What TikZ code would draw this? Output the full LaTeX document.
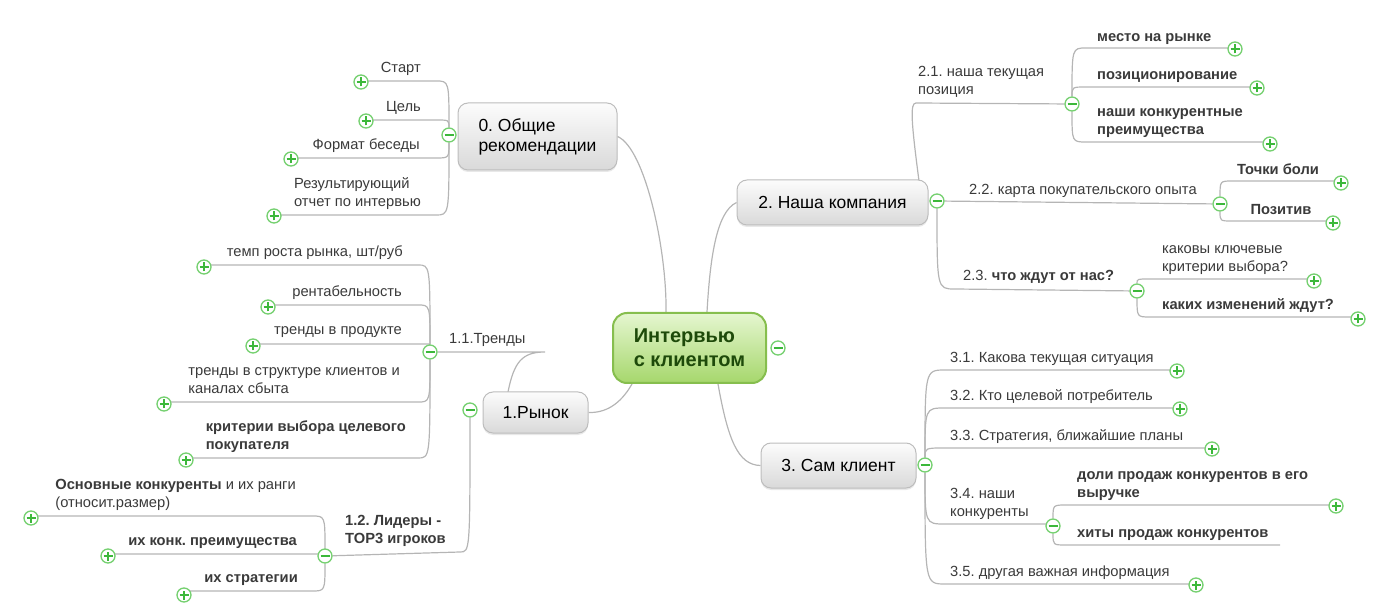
\documentclass[tikz,border=0pt]{standalone}
\usepackage{fontspec}
\setmainfont{Liberation Sans}
\usepackage{tikz}
\usetikzlibrary{backgrounds,calc,positioning,shadows}
\frenchspacing

\definecolor{linegray}{HTML}{B5B5B5}
\definecolor{textgray}{HTML}{3A3A3A}
\definecolor{btnring}{HTML}{74D06F}
\definecolor{btnmark}{HTML}{3CB83A}
\definecolor{topicline}{HTML}{BDBDBD}
\definecolor{topictop}{HTML}{FCFCFC}
\definecolor{topicbottom}{HTML}{D9D9D9}
\definecolor{rootline}{HTML}{86BE4E}
\definecolor{roottop}{HTML}{E5F6D0}
\definecolor{rootbottom}{HTML}{A6D76C}
\definecolor{roottext}{HTML}{1E4A0A}

\tikzset{
  branch/.style={draw=linegray,line width=1.2pt},
  topic/.style={rounded corners=10pt,draw=topicline,line width=1pt,top color=topictop,bottom color=topicbottom,
    drop shadow={opacity=0.18,shadow xshift=0pt,shadow yshift=-2pt},
    font=\fontsize{17.5}{20}\selectfont,text=black,align=left,inner sep=0pt},
  root/.style={rounded corners=14pt,draw=rootline,line width=2pt,top color=roottop,bottom color=rootbottom,
    font=\fontsize{20}{24}\selectfont\bfseries,text=roottext,align=left,inner sep=0pt},
  item/.style={inner sep=0pt,font=\fontsize{14.7}{17.5}\selectfont,text=textgray,align=left,execute at end node=\strut},
  bolditem/.style={item,font=\fontsize{14.7}{17.5}\selectfont\bfseries},
  foldbtn/.style={circle,draw=btnring,line width=1.3pt,fill=white,minimum size=14pt,inner sep=0pt},
  expandbtn/.style={foldbtn,path picture={
    \draw[btnmark,line width=2.2pt] ($(path picture bounding box.center)+(-4.5pt,0pt)$) -- ($(path picture bounding box.center)+(4.5pt,0pt)$);
    \draw[btnmark,line width=2.2pt] ($(path picture bounding box.center)+(0pt,-4.5pt)$) -- ($(path picture bounding box.center)+(0pt,4.5pt)$);}},
  collapsebtn/.style={foldbtn,path picture={
    \draw[btnmark,line width=2.2pt] ($(path picture bounding box.center)+(-4.5pt,0pt)$) -- ($(path picture bounding box.center)+(4.5pt,0pt)$);}},
}

\begin{document}
\begin{tikzpicture}[x=1pt,y=-1pt]
\useasboundingbox (0,0) rectangle (1385,612);

% main topics
\node[root,minimum width=153pt,minimum height=70pt] (root) at (689.5,348) {Интервью\\с клиентом};
\node[collapsebtn] (mroot) at (778,348) {};
\node[topic,minimum width=159pt,minimum height=67pt] (t0) at (537.5,136.5) {0. Общие\\рекомендации};
\node[collapsebtn] (m0) at (449,135) {};
\node[topic,minimum width=105pt,minimum height=41pt] (t1) at (535.5,412.5) {1.Рынок};
\node[collapsebtn] (m1) at (470,410) {};
\node[topic,minimum width=191pt,minimum height=45pt] (t2) at (832.5,202.5) {2. Наша компания};
\node[collapsebtn] (m2) at (937,201) {};
\node[topic,minimum width=155pt,minimum height=45pt] (t3) at (838.5,465.5) {3. Сам клиент};
\node[collapsebtn] (m3) at (925,465) {};

% 0
\node[item,anchor=south east] (s0a) at (421,77.5) {Старт};
\node[item,anchor=south east] (s0b) at (421,116.5) {Цель};
\node[item,anchor=south east] (s0c) at (420,154.5) {Формат беседы};
\node[item,anchor=south east] (s0d) at (421,211.5) {Результирующий\\отчет по интервью};
\coordinate (c0a) at (436,81);
\coordinate (c0b) at (436,120);
\coordinate (c0c) at (436,158);
\coordinate (c0d) at (436,215);
\node[expandbtn] (p0a) at (361,82) {};
\node[expandbtn] (p0b) at (366,121) {};
\node[expandbtn] (p0c) at (291,159) {};
\node[expandbtn] (p0d) at (274,216) {};

% 1
\node[item,anchor=south west] (s11) at (449,348.5) {1.1.Тренды};
\node[collapsebtn] (m11) at (430,352) {};
\coordinate (c11) at (545,352);
\coordinate (r11) at (508,392);
\node[bolditem,anchor=south west] (s12) at (345,548.5) {1.2. Лидеры -\\TOP3 игроков};
\node[collapsebtn] (m12) at (325,556) {};
\coordinate (c12) at (460,552);

\node[item,anchor=south east] (s11a) at (403,261.5) {темп роста рынка, шт/руб};
\node[item,anchor=south east] (s11b) at (402,301.5) {рентабельность};
\node[item,anchor=south east] (s11c) at (402,339.5) {тренды в продукте};
\node[item,anchor=south east] (s11d) at (400,398.5) {тренды в структуре клиентов и\\каналах сбыта};
\node[bolditem,anchor=south east] (s11e) at (406,454.5) {критерии выбора целевого\\покупателя};
\coordinate (c11a) at (418,265);
\coordinate (c11b) at (418,305);
\coordinate (c11c) at (418,344);
\coordinate (c11d) at (418,402);
\coordinate (c11e) at (418,458);
\node[expandbtn] (p11a) at (204,267) {};
\node[expandbtn] (p11b) at (268,307) {};
\node[expandbtn] (p11c) at (253,346) {};
\node[expandbtn] (p11d) at (164,404) {};
\node[expandbtn] (p11e) at (186,460) {};

\node[item,anchor=south east] (s12a) at (296,512.5) {\textbf{Основные конкуренты} и их ранги\\(относит.размер)};
\node[bolditem,anchor=south east] (s12b) at (297,550.5) {их конк. преимущества};
\node[bolditem,anchor=south east] (s12c) at (298,587.5) {их стратегии};
\coordinate (c12a) at (312,516);
\coordinate (c12b) at (312,554);
\coordinate (c12c) at (312,591);
\node[expandbtn] (p12a) at (31,518) {};
\node[expandbtn] (p12b) at (108,556) {};
\node[expandbtn] (p12c) at (184,595) {};

% 2
\node[item,anchor=south west] (s21) at (918,99.5) {2.1. наша текущая\\позиция};
\node[collapsebtn] (m21) at (1072,104) {};
\coordinate (c21) at (916,103);
\coordinate (r21) at (919,181);
\node[item,anchor=south west] (s22) at (969,199.5) {2.2. карта покупательского опыта};
\node[collapsebtn] (m22) at (1220,204) {};
\node[item,anchor=south west] (s23) at (963,285.5) {2.3. \textbf{что ждут от нас?}};
\node[collapsebtn] (m23) at (1137,291) {};
\coordinate (c23) at (955,289);

\node[bolditem,anchor=south west] (s21a) at (1097,46.5) {место на рынке};
\node[bolditem,anchor=south west] (s21b) at (1097,84.5) {позиционирование};
\node[bolditem,anchor=south west] (s21c) at (1097,139.5) {наши конкурентные\\преимущества};
\coordinate (c21a) at (1086,48);
\coordinate (c21b) at (1086,87);
\coordinate (c21c) at (1086,142);
\node[expandbtn] (p21a) at (1235,49) {};
\node[expandbtn] (p21b) at (1257,88) {};
\node[expandbtn] (p21c) at (1270,144) {};

\node[bolditem,anchor=south] (s22a) at (1278,179.5) {Точки боли};
\node[bolditem,anchor=south] (s22b) at (1281,219.5) {Позитив};
\coordinate (c22a) at (1232,181);
\coordinate (c22b) at (1232,221);
\node[expandbtn] (p22a) at (1341,183) {};
\node[expandbtn] (p22b) at (1333,223) {};

\node[item,anchor=south west] (s23a) at (1162,276.5) {каковы ключевые\\критерии выбора?};
\node[bolditem,anchor=south west] (s23b) at (1162,314.5) {каких изменений ждут?};
\coordinate (c23a) at (1150,279);
\coordinate (c23b) at (1150,317);
\node[expandbtn] (p23a) at (1314,281) {};
\node[expandbtn] (p23b) at (1358,319) {};

% 3
\node[item,anchor=south west] (s31) at (950,367.5) {3.1. Какова текущая ситуация};
\node[item,anchor=south west] (s32) at (950,405.5) {3.2. Кто целевой потребитель};
\node[item,anchor=south west] (s33) at (950,445.5) {3.3. Стратегия, ближайшие планы};
\node[item,anchor=south west] (s34) at (950,521.5) {3.4. наши\\конкуренты};
\node[item,anchor=south west] (s35) at (950,581.5) {3.5. другая важная информация};
\coordinate (c31) at (945,370);
\coordinate (c32) at (945,408);
\coordinate (c33) at (945,448);
\coordinate (c34) at (945,524);
\coordinate (c35) at (945,584);
\node[expandbtn] (p31) at (1177,371) {};
\node[expandbtn] (p32) at (1180,409) {};
\node[expandbtn] (p33) at (1212,449) {};
\node[collapsebtn] (m34) at (1053,526) {};
\node[expandbtn] (p35) at (1196,585) {};

\node[bolditem,anchor=south west] (s34a) at (1077,502.5) {доли продаж конкурентов в его\\выручке};
\node[bolditem,anchor=south west] (s34b) at (1077,542.5) {хиты продаж конкурентов};
\coordinate (c34a) at (1066,505);
\coordinate (c34b) at (1066,545);
\coordinate (e34b) at (1280,545);
\node[expandbtn] (p34a) at (1336,506) {};

\begin{scope}[on background layer]
\draw[branch] (root.north west) ++(54,0) coordinate (r0) .. controls (667,250) and (645,148) .. (t0.east);
\draw[branch] (root.north east) ++(-60,0) coordinate (r2) .. controls (710,260) and (716,212) .. (t2.west);
\draw[branch] (root.south west) ++(20,0) coordinate (r1) .. controls (620,405) and (605,413) .. (t1.east);
\draw[branch] (root.south east) ++(-49,0) coordinate (r3) .. controls (728,440) and (738,465) .. (t3.west);

\draw[branch] (m0) .. controls (m0 |- c0a) .. (c0a) -- (c0a -| p0a);
\draw[branch] (m0) .. controls (m0 |- c0b) .. (c0b) -- (c0b -| p0b);
\draw[branch] (m0) .. controls (m0 |- c0c) .. (c0c) -- (c0c -| p0c);
\draw[branch] (m0) .. controls (m0 |- c0d) .. (c0d) -- (c0d -| p0d);

\draw[branch] (r11) .. controls (514,362) and (522,352) .. (c11) -- (m11);
\draw[branch] (m1) .. controls (m1 |- c12) .. (c12) -- (m12);
\draw[branch] (m11) .. controls (m11 |- c11a) .. (c11a) -- (c11a -| p11a);
\draw[branch] (m11) .. controls (m11 |- c11b) .. (c11b) -- (c11b -| p11b);
\draw[branch] (m11) .. controls (m11 |- c11c) .. (c11c) -- (c11c -| p11c);
\draw[branch] (m11) .. controls (m11 |- c11d) .. (c11d) -- (c11d -| p11d);
\draw[branch] (m11) .. controls (m11 |- c11e) .. (c11e) -- (c11e -| p11e);
\draw[branch] (m12) .. controls (m12 |- c12a) .. (c12a) -- (c12a -| p12a);
\draw[branch] (m12) .. controls (m12 |- c12b) .. (c12b) -- (c12b -| p12b);
\draw[branch] (m12) .. controls (m12 |- c12c) .. (c12c) -- (c12c -| p12c);

\draw[branch] (r21) .. controls (911,120) and (910,103) .. (c21) -- (m21);
\draw[branch] (m2) -- (m22);
\draw[branch] (m2) .. controls (m2 |- c23) .. (c23) -- (m23);
\draw[branch] (m21) .. controls (m21 |- c21a) .. (c21a) -- (c21a -| p21a);
\draw[branch] (m21) .. controls (m21 |- c21b) .. (c21b) -- (c21b -| p21b);
\draw[branch] (m21) .. controls (m21 |- c21c) .. (c21c) -- (c21c -| p21c);
\draw[branch] (m22) .. controls (m22 |- c22a) .. (c22a) -- (c22a -| p22a);
\draw[branch] (m22) .. controls (m22 |- c22b) .. (c22b) -- (c22b -| p22b);
\draw[branch] (m23) .. controls (m23 |- c23a) .. (c23a) -- (c23a -| p23a);
\draw[branch] (m23) .. controls (m23 |- c23b) .. (c23b) -- (c23b -| p23b);

\draw[branch] (m3) .. controls (m3 |- c31) .. (c31) -- (c31 -| p31);
\draw[branch] (m3) .. controls (m3 |- c32) .. (c32) -- (c32 -| p32);
\draw[branch] (m3) .. controls (m3 |- c33) .. (c33) -- (c33 -| p33);
\draw[branch] (m3) .. controls (m3 |- c34) .. (c34) -- (c34 -| m34);
\draw[branch] (m3) .. controls (m3 |- c35) .. (c35) -- (c35 -| p35);
\draw[branch] (m34) .. controls (m34 |- c34a) .. (c34a) -- (c34a -| p34a);
\draw[branch] (m34) .. controls (m34 |- c34b) .. (c34b) -- (e34b);
\end{scope}
\end{tikzpicture}
\end{document}
